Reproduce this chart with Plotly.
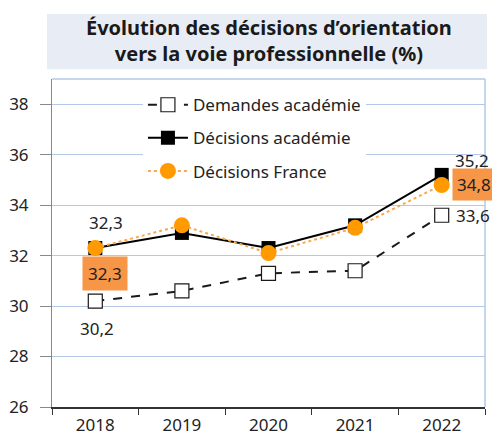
import plotly.graph_objects as go

years = ["2018", "2019", "2020", "2021", "2022"]
demandes_academie = [30.2, 30.6, 31.3, 31.4, 33.6]
decisions_academie = [32.3, 32.9, 32.3, 33.2, 35.2]
decisions_france = [32.3, 33.2, 32.1, 33.1, 34.8]
y_ticks = [26, 28, 30, 32, 34, 36, 38]

FONT = "Noto Sans"
ORANGE = "#FF9A00"
BOX = "#F79646"
GRID = "#B4C7E7"

def fmt(v):
    return f"{v:.1f}".replace(".", ",")

fig = go.Figure()
fig.add_trace(go.Scatter(
    x=years, y=demandes_academie, name="Demandes académie", mode="lines+markers",
    line=dict(color="#1a1a1a", width=2, dash="dash"),
    marker=dict(symbol="square", size=14, color="white", line=dict(color="#1a1a1a", width=1.2)),
    legendgroup="a"))
fig.add_trace(go.Scatter(
    x=years, y=decisions_academie, name="Décisions académie", mode="lines+markers",
    line=dict(color="#000000", width=2),
    marker=dict(symbol="square", size=14, color="#000000"),
    legendgroup="b"))
fig.add_trace(go.Scatter(
    x=years, y=decisions_france, name="Décisions France", mode="lines+markers",
    line=dict(color="#F9A84D", width=2, dash="dot"),
    marker=dict(symbol="circle", size=16, color=ORANGE),
    legendgroup="c"))

first, last = 0, len(years) - 1
LF = dict(size=17, color="#222")
ann = []
ann.append(dict(x=first, y=decisions_academie[first], text=fmt(decisions_academie[first]),
                showarrow=False, yshift=26, xshift=11, font=LF))
ann.append(dict(x=first, y=decisions_france[first], text=fmt(decisions_france[first]),
                showarrow=False, yshift=-25, xshift=10, bgcolor=BOX, borderpad=5, font=LF))
ann.append(dict(x=first, y=demandes_academie[first], text=fmt(demandes_academie[first]),
                showarrow=False, yshift=-27, xshift=2, font=LF))
ann.append(dict(x=last, y=decisions_academie[last], text=fmt(decisions_academie[last]),
                showarrow=False, yshift=14, xshift=30, font=LF))
ann.append(dict(x=last, y=decisions_france[last], text=fmt(decisions_france[last]),
                showarrow=False, yshift=0, xshift=32, bgcolor=BOX, borderpad=4, font=LF))
ann.append(dict(x=last, y=demandes_academie[last], text=fmt(demandes_academie[last]),
                showarrow=False, yshift=0, xshift=31, font=LF))
ann.append(dict(x=0.5, y=1.116, xref="paper", yref="paper", yanchor="middle", showarrow=False,
                text="<b>Évolution des décisions d’orientation<br>vers la voie professionnelle (%)</b>",
                font=dict(size=20, color="#1a1a1a", family=FONT)))

shapes = [
    dict(type="rect", xref="paper", yref="paper", x0=-0.0115, x1=1.0046, y0=1.030, y1=1.198,
         fillcolor="#E8EDF5", line=dict(width=0), layer="below"),
    dict(type="line", xref="paper", yref="paper", x0=0, x1=1, y0=1, y1=1, line=dict(color=GRID, width=1.5)),
    dict(type="line", xref="paper", yref="paper", x0=1, x1=1, y0=0, y1=1, line=dict(color=GRID, width=1.5)),
]

# the page body adds an 8px offset, so the figure is 8px smaller and margins compensated
fig.update_layout(
    width=492, height=428,
    margin=dict(l=44, r=15, t=71, b=29),
    paper_bgcolor="white", plot_bgcolor="white",
    font=dict(family=FONT, size=17, color="#222"),
    showlegend=True,
    legend=dict(x=0.21, y=0.975, xanchor="left", yanchor="top", bgcolor="white",
                font=dict(size=17, color="#222"), traceorder="grouped", tracegroupgap=8,
                itemwidth=40),
    annotations=ann, shapes=shapes,
)
fig.update_xaxes(type="category", range=[-0.5, len(years) - 0.5], tickson="boundaries",
                 ticks="outside", ticklen=6, tickcolor="#333", automargin=False,
                 ticklabelstandoff=2,
                 showline=True, linecolor="#333", linewidth=1.5, showgrid=False,
                 tickfont=dict(size=17, color="#222"))
fig.update_yaxes(range=[26, 39], tickvals=y_ticks, ticks="outside", ticklen=11, tickcolor="#888",
                 automargin=False, ticklabelstandoff=8,
                 showline=True, linecolor="#888", linewidth=1, showgrid=True, gridcolor=GRID, gridwidth=1,
                 zeroline=False, tickfont=dict(size=17, color="#222"))

fig.write_html("out.html")
